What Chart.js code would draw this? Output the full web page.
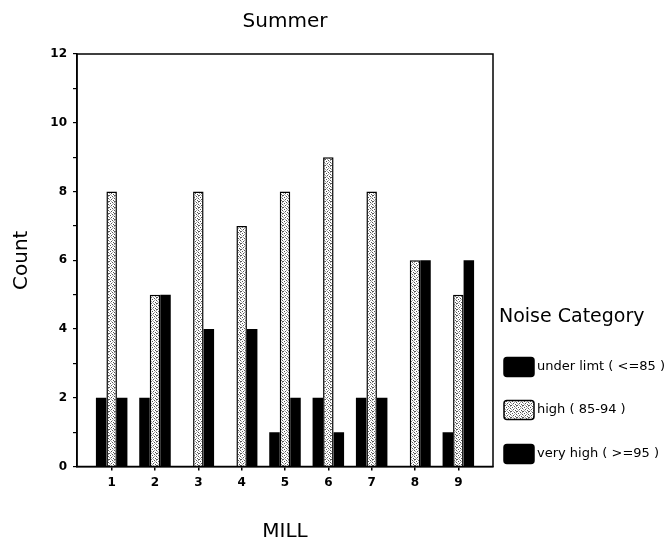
<!DOCTYPE html>
<html>
<head>
<meta charset="utf-8">
<script src="https://cdn.jsdelivr.net/npm/chart.js@4/dist/chart.umd.min.js"></script>
<style>
  html, body { margin: 0; padding: 0; background: #fff; }
  #wrap { width: 671px; height: 544px; }
</style>
</head>
<body>
<div id="wrap"><canvas id="c" width="671" height="544"></canvas></div>
<script>
const mills = [1, 2, 3, 4, 5, 6, 7, 8, 9];
const underLimit = [2, 2, 0, 0, 1, 2, 2, 0, 1];
const high = [8, 5, 8, 7, 8, 9, 8, 6, 5];
const veryHigh = [2, 5, 4, 4, 2, 1, 2, 6, 6];
const seriesLabels = ['under limt ( <=85 )', 'high ( 85-94 )', 'very high ( >=95 )'];
const yTickLabels = [0, 2, 4, 6, 8, 10, 12];
const chartTitle = 'Summer';
const xTitle = 'MILL';
const yTitle = 'Count';
const legendTitle = 'Noise Category';

const FONT = "'DejaVu Sans', Verdana, sans-serif";
const canvas = document.getElementById('c');
const ctx = canvas.getContext('2d');

function makePattern() {
  const p = document.createElement('canvas');
  p.width = 6; p.height = 6;
  const g = p.getContext('2d');
  g.fillStyle = '#ffffff';
  g.fillRect(0, 0, 6, 6);
  g.fillStyle = '#555555';
  [[0,0],[3,1],[1,3],[4,4],[2,5],[5,2],[0,3]].forEach(([x, y]) => g.fillRect(x, y, 1, 1));
  g.fillStyle = '#a8a8a8';
  [[2,2],[5,5],[0,4],[4,0],[3,3],[1,1]].forEach(([x, y]) => g.fillRect(x, y, 1, 1));
  return ctx.createPattern(p, 'repeat');
}
const hatch = makePattern();

const toPts = arr => arr.map((v, i) => ({ x: mills[i], y: v }));

const fills = ['#000000', hatch, '#000000'];

const frameAndLegend = {
  id: 'frameAndLegend',
  afterDraw(chart) {
    const c = chart.ctx;
    const a = chart.chartArea;
    c.save();
    c.strokeStyle = '#000';
    c.lineWidth = 1.5;
    c.strokeRect(a.left, a.top, a.right - a.left, a.bottom - a.top);

    // legend
    c.fillStyle = '#000';
    c.font = '19px ' + FONT;
    c.textBaseline = 'middle';
    c.textAlign = 'left';
    c.fillText(legendTitle, 499, 317);
    const ys = [367, 410, 454];
    chart.data.datasets.forEach((ds, i) => {
      const y = ys[i];
      const bx = 504, bw = 30, bh = 19;
      c.beginPath();
      if (c.roundRect) c.roundRect(bx, y - bh / 2, bw, bh, 3); else c.rect(bx, y - bh / 2, bw, bh);
      c.fillStyle = ds.backgroundColor;
      c.fill();
      c.lineWidth = 1.5;
      c.strokeStyle = '#000';
      c.stroke();
      c.fillStyle = '#000';
      c.font = '13px ' + FONT;
      c.fillText(ds.label, 537, y);
    });
    c.restore();
  }
};

new Chart(canvas, {
  type: 'bar',
  data: {
    datasets: [
      { label: seriesLabels[0], data: toPts(underLimit), backgroundColor: fills[0], borderColor: '#000', borderWidth: 0 },
      { label: seriesLabels[1], data: toPts(high), backgroundColor: fills[1], borderColor: '#000', borderWidth: 1.5 },
      { label: seriesLabels[2], data: toPts(veryHigh), backgroundColor: fills[2], borderColor: '#000', borderWidth: 0 }
    ]
  },
  options: {
    responsive: false,
    animation: false,
    devicePixelRatio: 1,
    categoryPercentage: 0.727,
    barPercentage: 1.0,
    layout: { padding: { left: 10, right: 178, top: 0, bottom: 0 } },
    plugins: {
      legend: { display: false },
      tooltip: { enabled: false },
      title: {
        display: true,
        text: chartTitle,
        fullSize: false,
        color: '#000',
        font: { family: FONT, size: 20, weight: 'normal' },
        padding: { top: 10, bottom: 20 }
      }
    },
    scales: {
      x: {
        type: 'linear',
        min: 0.2,
        max: 9.8,
        offset: false,
        afterBuildTicks: s => { s.ticks = mills.map(v => ({ value: v })); },
        afterFit: s => { s.height = 77.5; },
        ticks: {
          color: '#000',
          font: { family: FONT, size: 12, weight: 'bold' },
          padding: 5,
          maxRotation: 0,
          autoSkip: false,
          callback: v => String(v)
        },
        grid: { display: true, offset: false, drawOnChartArea: false, drawTicks: true, tickLength: 4, color: '#000', lineWidth: 1.5 },
        border: { display: true, color: '#000', width: 1.5 },
        title: {
          display: true,
          text: xTitle,
          color: '#000',
          font: { family: FONT, size: 20, weight: 'normal' },
          padding: { top: 0, bottom: 0 }
        }
      },
      y: {
        min: 0,
        max: 12,
        afterFit: s => { s.width = 67; },
        ticks: {
          stepSize: 1,
          color: '#000',
          font: { family: FONT, size: 12, weight: 'bold' },
          padding: 6,
          callback: v => (yTickLabels.includes(v) ? String(v) : '')
        },
        grid: { display: true, drawOnChartArea: false, drawTicks: true, tickLength: 4, color: '#000', lineWidth: 1.2 },
        border: { display: true, color: '#000', width: 1.5 },
        title: {
          display: true,
          text: yTitle,
          color: '#000',
          font: { family: FONT, size: 20, weight: 'normal' },
          padding: { top: 0, bottom: 0 }
        }
      }
    }
  },
  plugins: [frameAndLegend]
});
</script>
</body>
</html>
